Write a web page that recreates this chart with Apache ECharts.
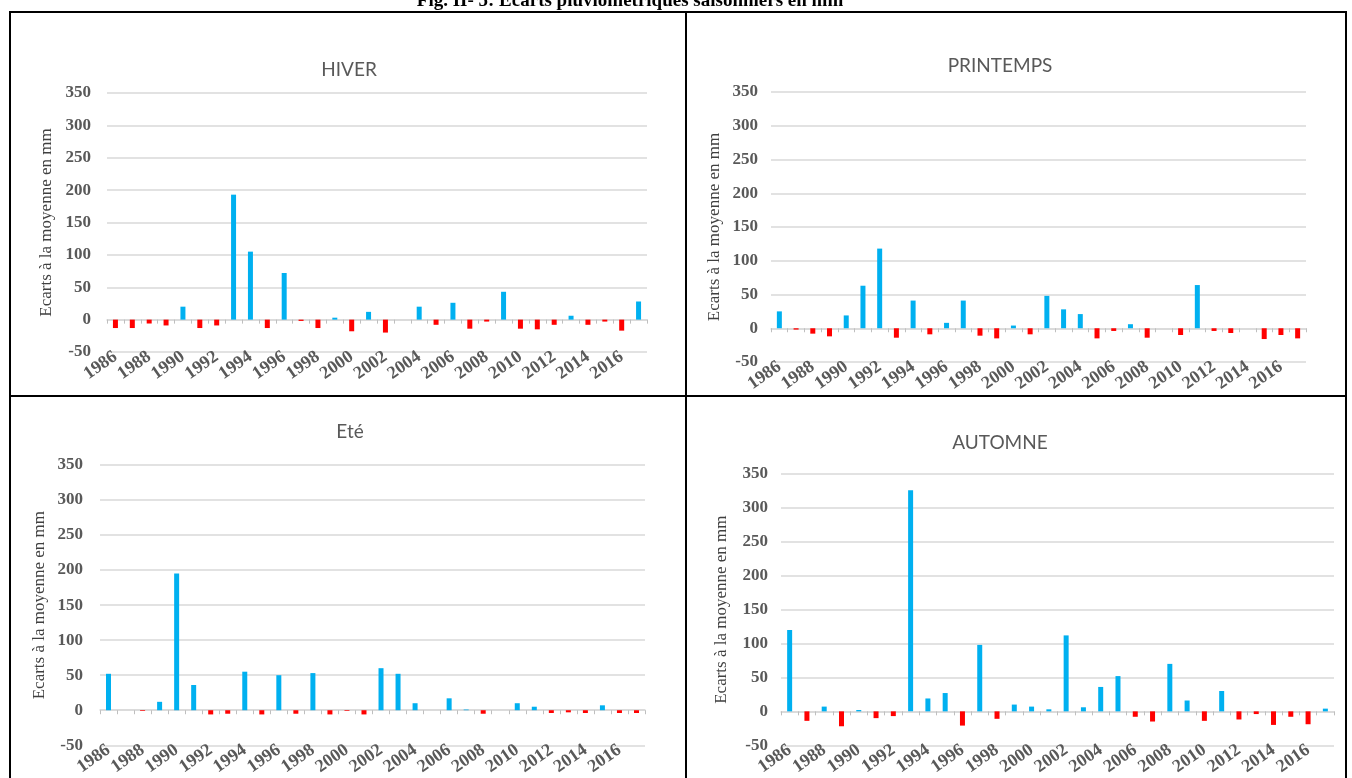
<!DOCTYPE html>
<html>
<head>
<meta charset="utf-8">
<script src="https://cdn.jsdelivr.net/npm/echarts@6/dist/echarts.min.js"></script>
<style>
html,body{margin:0;padding:0;background:#fff;}
#c{width:1352px;height:778px;}
</style>
</head>
<body>
<div id="c"></div>
<script>
var years = ['1986','1987','1988','1989','1990','1991','1992','1993','1994','1995','1996','1997','1998','1999','2000','2001','2002','2003','2004','2005','2006','2007','2008','2009','2010','2011','2012','2013','2014','2015','2016','2017'];
var hiver = [-13,-13,-6,-9,20,-13,-9,193,105,-13,72,-2,-13,3,-18,12,-20,0,20,-8,26,-14,-3,43,-14,-15,-8,6,-8,-3,-17,28];
var printemps = [25,-2,-8,-12,19,63,118,-14,41,-9,8,41,-11,-15,4,-9,48,28,21,-15,-4,6,-14,0,-10,64,-4,-7,0,-16,-10,-15];
var ete = [52,0,-1,12,195,36,-6,-5,55,-6,50,-5,53,-6,-1,-6,60,52,10,0,17,1,-5,0,10,5,-4,-3,-4,7,-4,-4];
var automne = [120,-14,7,-22,2,-10,-7,326,19,27,-21,98,-11,10,7,3,112,6,36,52,-8,-15,70,16,-14,30,-12,-4,-20,-8,-19,4];
var panelTitles = ['HIVER','PRINTEMPS','Eté','AUTOMNE'];
var figTitle = 'Fig. II- 5: Ecarts pluviométriques saisonniers en mm';
var yName = 'Ecarts à la moyenne en mm';

var panels = [
  {data: hiver,     grid:{left:107, top:93,  width:540, height:259}, tx:349,  ty:70,  lm:16, ng:52},
  {data: printemps, grid:{left:771, top:92,  width:535, height:270}, tx:1000, ty:66,  lm:13, ng:48},
  {data: ete,       grid:{left:100, top:465, width:545, height:288}, tx:350,  ty:432, lm:17, ng:52},
  {data: automne,   grid:{left:781, top:474, width:553, height:278}, tx:1000, ty:443, lm:13, ng:51}
];

var BLUE = '#00B0F0', RED = '#FF0000';
var grids = [], xAxes = [], yAxes = [], series = [];
var graphics = [];
panels.forEach(function(p, i){
  grids.push(p.grid);
  graphics.push({type: 'text', z: 50, style: {text: panelTitles[i], x: p.tx, y: p.ty,
    textAlign: 'center', textVerticalAlign: 'middle', align: 'center', verticalAlign: 'middle',
    font: '19px Lato', fill: '#595959'}});
  xAxes.push({
    type: 'category', gridIndex: i, data: years,
    axisLine: {onZero: true, lineStyle: {color: '#d9d9d9', width: 1.5}},
    axisTick: {show: true, interval: 0, length: 4, lineStyle: {color: '#bfbfbf'}},
    axisLabel: {interval: 1, rotate: 35, margin: 3, fontFamily: 'Liberation Serif', fontWeight: 'bold', fontSize: 18, color: '#595959'},
    splitLine: {show: false}
  });
  yAxes.push({
    type: 'value', gridIndex: i, min: -50, max: 350, interval: 50,
    name: yName, nameLocation: 'middle', nameGap: p.ng, nameRotate: 90,
    nameTextStyle: {fontFamily: 'Liberation Serif', fontSize: 17, color: '#404040'},
    axisLine: {show: false}, axisTick: {show: false},
    axisLabel: {margin: p.lm, fontFamily: 'Liberation Serif', fontWeight: 'bold', fontSize: 17, color: '#595959'},
    splitLine: {lineStyle: {color: '#d9d9d9', width: 1.5}}
  });
  series.push({
    type: 'bar', xAxisIndex: i, yAxisIndex: i, data: p.data, barWidth: 5,
    itemStyle: {color: function(d){ return d.value >= 0 ? BLUE : RED; }},
    animation: false
  });
});

graphics.push(
  {type: 'text', z: 100, style: {text: figTitle, x: 630, y: 11, textAlign: 'center', textVerticalAlign: 'bottom', align: 'center', verticalAlign: 'bottom', font: 'bold 19px "Liberation Serif"', fill: '#000'}},
  {type: 'rect', z: 100, shape: {x: 10, y: 12, width: 1336, height: 800}, style: {fill: 'none', stroke: '#000', lineWidth: 2}},
  {type: 'line', z: 100, shape: {x1: 686, y1: 12, x2: 686, y2: 800}, style: {stroke: '#000', lineWidth: 2}},
  {type: 'line', z: 100, shape: {x1: 10, y1: 396, x2: 1346, y2: 396}, style: {stroke: '#000', lineWidth: 2}}
);

var chart = echarts.init(document.getElementById('c'), null, {renderer: 'canvas'});
chart.setOption({
  backgroundColor: '#fff',
  animation: false,
  grid: grids,
  xAxis: xAxes,
  yAxis: yAxes,
  series: series,
  graphic: graphics
});
</script>
</body>
</html>
